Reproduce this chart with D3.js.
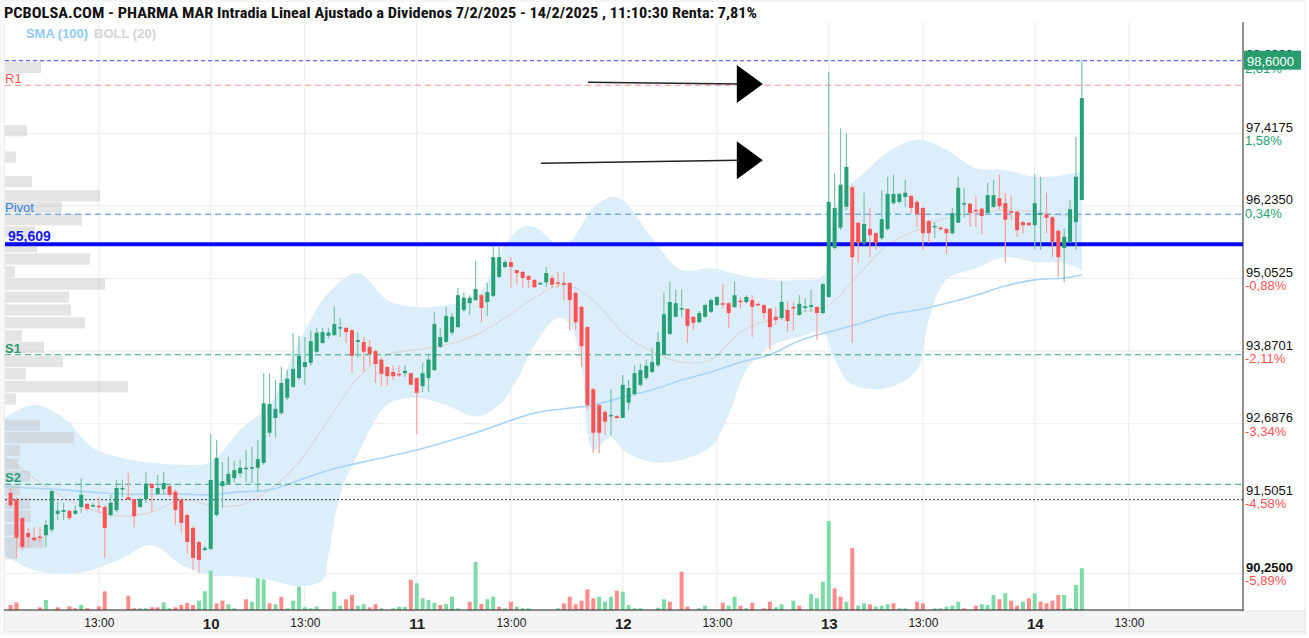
<!DOCTYPE html>
<html>
<head>
<meta charset="utf-8">
<script src="https://cdn.jsdelivr.net/npm/d3@7"></script>
<style>
  body { margin: 0; background: #fff; }
  svg { display: block; font-family: Arial, "Liberation Sans", sans-serif; }
</style>
</head>
<body>
<svg id="chart" width="1309" height="638"></svg>
<script>
// 15 minute bars, [open, high, low, close]; day 7 starts at 9:15
var day07 = [
  [91.56,91.64,91.32,91.36],[91.45,91.49,90.50,90.83],[91.15,91.17,90.63,90.68],[90.91,90.99,90.68,90.84],
  [90.83,91.00,90.76,90.79],[90.85,91.00,90.74,90.83],[90.87,91.12,90.68,91.04],[90.96,91.61,90.92,91.59],
  [91.22,91.41,91.12,91.27],[91.25,91.40,91.12,91.28],[91.27,91.28,91.12,91.15],[91.22,91.36,91.20,91.27],
  [91.33,91.80,91.23,91.53],[91.38,91.40,91.27,91.30],[91.35,91.40,91.33,91.36],[91.35,91.49,91.23,91.33],
  [91.33,91.36,90.50,90.99],[91.20,91.53,91.17,91.40],[91.28,91.77,91.25,91.64],[91.62,91.77,91.49,91.64],
  [91.49,91.89,91.45,91.45],[91.46,91.46,91.00,91.18],[91.33,91.49,91.32,91.46],[91.46,91.90,91.40,91.71],
  [91.71,91.71,91.25,91.64],[91.54,91.85,91.53,91.64],[91.62,91.90,91.53,91.72],[91.67,91.69,91.49,91.53],
  [91.58,91.61,91.04,91.28],[91.45,91.48,90.91,91.07],[91.20,91.23,90.58,90.76],[90.99,91.02,90.31,90.50],
  [90.76,90.78,90.26,90.47],[90.63,90.70,90.61,90.66]
];
var day10 = [
  [90.65,92.52,90.63,91.77],[91.20,92.42,91.17,92.13],[91.67,92.06,91.32,91.75],[91.71,92.15,91.69,91.87],
  [91.80,92.08,91.72,91.93],[91.88,92.10,91.82,91.97],[91.95,92.26,91.74,91.97],[91.97,92.31,91.72,91.98],
  [91.97,92.42,91.58,92.11],[92.05,93.51,92.02,93.02],[92.54,93.51,92.47,93.01],[92.78,93.40,92.46,92.93],
  [92.86,93.61,92.83,93.35],[93.11,93.56,93.07,93.42],[93.29,94.17,93.27,93.58],[93.43,94.12,93.40,93.79],
  [93.61,94.10,93.32,93.69],[93.68,94.21,93.64,94.03],[93.86,94.25,93.84,94.17],[94.00,94.25,94.00,94.18],
  [94.12,94.25,94.07,94.17],[94.13,94.60,94.12,94.31],[94.25,94.41,94.10,94.26],[94.25,94.26,94.00,94.18],
  [94.21,94.23,93.51,93.79],[94.02,94.18,93.76,94.05],[94.02,94.10,93.53,93.86],[93.94,94.05,93.64,93.82],
  [93.87,93.90,93.35,93.66],[93.73,93.76,93.30,93.50],[93.61,93.63,93.30,93.46],[93.53,93.64,93.40,93.46],
  [93.50,93.64,93.45,93.48],[93.51,93.64,93.45,93.55],[93.51,93.53,93.32,93.32]
];
var day11 = [
  [93.43,93.45,92.52,93.19],[93.30,93.68,93.20,93.51],[93.43,93.79,93.20,93.73],[93.56,94.51,93.55,94.31],
  [93.94,94.25,93.92,94.10],[94.02,94.59,94.00,94.44],[94.17,94.49,94.13,94.43],[94.26,94.90,94.25,94.78],
  [94.54,94.83,94.51,94.74],[94.65,94.78,94.46,94.74],[94.70,95.34,94.69,94.88],[94.78,94.80,94.34,94.57],
  [94.67,94.98,94.44,94.83],[94.77,95.58,94.75,95.40],[95.08,95.58,95.06,95.40],[95.24,95.35,95.22,95.32],
  [95.32,95.40,94.90,95.24],[95.19,95.19,94.95,95.14],[95.16,95.18,94.90,95.06],[95.09,95.11,94.90,95.03],
  [95.03,95.04,94.90,94.91],[94.96,94.99,94.95,94.98],[94.99,95.24,94.91,95.14],[95.06,95.11,94.90,94.95],
  [94.99,95.16,94.90,94.97],[94.98,95.16,94.70,94.95],[94.98,94.99,94.21,94.70],[94.82,94.83,94.21,94.34],
  [94.59,94.62,93.61,93.95],[94.26,94.28,92.91,92.99],[93.25,93.27,92.21,92.54],[92.99,93.01,92.21,92.54],
  [92.88,92.91,92.50,92.72],[92.81,93.25,92.50,92.83],[92.81,92.83,92.76,92.78]
];
var day12 = [
  [92.78,93.48,92.78,93.32],[93.03,93.40,92.91,93.27],[93.17,93.64,93.14,93.51],[93.32,93.66,93.29,93.56],
  [93.43,93.73,93.40,93.63],[93.53,93.92,93.51,93.69],[93.64,94.18,93.61,94.02],[93.81,94.82,93.79,94.47],
  [94.15,95.00,94.13,94.67],[94.43,94.87,94.41,94.65],[94.56,94.87,94.43,94.57],[94.56,94.56,94.00,94.28],
  [94.43,94.44,94.21,94.33],[94.34,94.52,94.33,94.49],[94.43,94.64,94.41,94.62],[94.51,94.73,94.49,94.70],
  [94.62,94.77,94.60,94.75],[94.65,94.96,94.57,94.64],[94.65,94.67,94.25,94.49],[94.59,95.00,94.57,94.78],
  [94.69,94.75,94.57,94.67],[94.67,94.78,94.65,94.75],[94.70,94.78,94.10,94.59],[94.64,94.67,94.60,94.62],
  [94.62,94.64,94.39,94.49],[94.56,94.57,93.89,94.26],[94.43,94.59,94.30,94.38],[94.41,95.00,94.38,94.67],
  [94.54,94.69,94.18,94.36],[94.59,94.67,94.21,94.57],[94.46,94.78,94.44,94.64],[94.57,94.73,94.51,94.60],
  [94.59,94.87,94.51,94.62],[94.59,94.60,94.05,94.49],[94.49,94.98,94.47,94.96]
];
var day13 = [
  [94.75,98.42,94.74,96.30],[95.55,96.77,95.52,96.20],[95.88,97.50,95.84,96.58],[96.22,97.42,96.17,96.87],
  [96.54,96.58,94.00,95.40],[95.96,95.97,95.31,95.63],[95.63,96.45,95.60,95.94],[95.86,96.20,95.40,95.76],
  [95.79,95.81,95.52,95.63],[95.71,96.49,95.68,96.02],[95.86,96.71,95.83,96.43],[96.28,96.75,96.25,96.43],
  [96.30,96.45,96.27,96.43],[96.38,96.66,96.22,96.45],[96.40,96.41,96.12,96.20],[96.30,96.33,95.89,96.10],
  [96.20,96.22,95.52,95.79],[95.99,96.01,95.63,95.79],[95.89,95.97,95.71,95.91],[95.88,95.91,95.83,95.86],
  [95.86,95.88,95.45,95.79],[95.79,96.20,95.76,96.12],[95.96,96.71,95.96,96.53],[96.27,96.53,96.04,96.28],
  [96.27,96.28,95.89,96.12],[96.17,96.40,95.89,96.15],[96.19,96.20,95.76,96.07],[96.12,96.61,96.12,96.41],
  [96.22,96.66,96.20,96.41],[96.36,96.75,96.17,96.23],[96.28,96.45,95.31,96.01],[96.15,96.41,96.01,96.14],
  [96.14,96.15,95.73,95.84],[95.97,95.99,95.79,95.92],[95.96,95.97,95.91,95.92]
];
var day14 = [
  [95.92,96.75,95.52,96.28],[96.09,96.71,95.52,96.12],[96.10,96.45,95.79,96.04],[96.05,96.07,95.40,95.65],
  [95.83,95.84,95.08,95.40],[95.55,95.87,95.00,95.73],[95.65,96.33,95.63,96.18],[95.97,97.36,95.52,96.71],
  [96.33,98.61,96.33,97.99]
];

// volume per bar (thousands), negative = selling bar (red)
var vol07 = [-5,-7.7,0,0,0,-2.7,10,0,-2.7,0,-3.7,-1.7,5,-1.7,0,-3.7,-18.7,0,0,0,-14.3,-1.7,1.7,1.7,-2.7,-2.7,7.7,1.7,-2.7,-5,-7,-5,9.3,18.7];
var vol10 = [39.3,-6.7,-9.3,5.7,1.7,0,-10.7,8.3,31.7,30.7,-6.7,5.7,-13.3,1.7,9.3,23.3,2.7,1.7,3.3,0,0,18.3,4.3,-10.7,-15,4.3,5.7,-2.7,-5.7,1.7,0,1.7,3.3,3.3,-30];
var vol11 = [26.7,11.7,10,7.3,-5,6,13.3,1.7,0,-8.3,48,-6,10.7,13.3,-3.3,1.7,-8.3,3.3,1.7,1.7,0,0,0,0,1.7,-6.7,-13.3,-5.7,-9.3,-20.7,-11.7,13.3,8.3,13.3,-19.3];
var vol12 = [18.3,5,1.7,1.7,0,0,2.3,10.7,-8.3,0,-38.3,-3.3,0,1.7,4.3,0,0,-7.3,4.3,13.3,-4.3,1.7,-7.3,0,-1.7,-8.3,2.7,5.7,0,9.3,-4.3,0,16,11.7,28.3];
var vol13 = [89,-21.7,-13.3,8.3,-62,4.3,6.7,-5.7,3.3,4.3,5.7,-6.7,1.7,1.7,0,-8.3,-6.7,0,1.7,1.7,3.3,4.3,8.3,-1.7,0,-4.3,5.7,5,15,-10.7,16.7,-9.3,-4.3,8.3,-11.7];
var vol14 = [16.7,-8.3,-6.7,-9.3,-15,15,1.7,25,41.7];

// Bollinger (20) bands and SMA (100), read at bar indices
var upIdx = [0,5,10,15,20,25,30,35,40,45,50,55,60,65,70,75,80,85,88,90,95,100,103,105,110,115,120,125,130,135,139,140,141,143,145,150,155,160,165,170,175,180,183];
var upVal = [92.78,92.99,92.78,92.29,92.13,92.05,92.02,92.06,92.59,92.99,94.02,94.82,95.14,94.70,94.59,94.62,94.75,95.60,95.89,95.89,95.58,96.20,96.38,96.33,95.71,95.19,95.22,95.11,95.03,95.03,95.09,95.52,96.17,96.54,96.69,97.11,97.31,97.15,96.85,96.82,96.71,96.74,96.79];
var loIdx = [0,5,10,15,20,25,30,35,40,45,50,54,55,57,60,65,70,75,80,84,87,90,94,96,98,100,103,105,110,115,120,123,126,130,135,139,141,144,150,155,157,160,165,170,175,180,183];
var loVal = [90.55,90.30,90.24,90.31,90.50,90.71,90.39,90.22,90.20,90.14,90.04,90.14,90.55,91.53,92.18,92.99,93.11,92.99,92.80,92.99,93.40,93.97,94.41,94.30,93.64,92.26,92.47,92.26,92.06,92.10,92.31,92.83,93.56,93.94,94.10,94.17,93.73,93.32,93.27,93.56,94.38,95.03,95.22,95.40,95.32,95.31,95.19];
var midIdx = [0,5,10,15,20,25,30,35,40,45,50,55,60,65,70,75,80,85,90,95,100,105,110,115,120,125,130,135,140,145,150,155,160,165,170,175,180,183];
var midVal = [92.15,91.80,91.49,91.28,91.18,91.25,91.45,91.36,91.36,91.61,92.06,92.75,93.43,93.81,93.89,93.97,94.13,94.41,94.74,94.95,94.70,94.17,93.86,93.69,93.73,94.18,94.38,94.49,94.62,95.11,95.60,95.84,96.04,96.12,96.17,96.14,96.07,96.05];
var smaIdx = [0,10,20,30,35,40,45,55,65,70,80,90,100,105,110,115,120,125,130,135,140,145,150,155,160,165,170,175,180,183];
var smaVal = [91.66,91.61,91.54,91.54,91.53,91.58,91.61,91.93,92.15,92.26,92.54,92.86,92.99,93.12,93.24,93.40,93.53,93.69,93.81,94.04,94.18,94.31,94.46,94.54,94.65,94.78,94.93,95.03,95.06,95.11];

// volume by price (left side)
var profPrice = [98.49,97.46,97.03,96.63,96.40,96.21,96.01,95.81,95.57,95.37,95.16,94.96,94.75,94.54,94.33,94.12,93.93,93.70,93.50,93.29,93.09,92.66,92.46,92.25,92.03,91.83,91.61,91.39,91.18,90.96,90.75,90.57];
var profVol = [36,22,11,27,95,57,77,30,32,85,10,100,64,66,80,17,39,58,21,123,11,35,69,15,14,25,15,25,26,18,39,12];

var levelNames = ["R1", "Pivot", "S1", "S2"];
var levelVals = [98.20, 96.10, 93.81, 91.70];
var lastPrice = 98.60, keyLevel = 95.609, prevClose = 91.45;

var priceTicks = [90.25, 91.5051, 92.6876, 93.8701, 95.0525, 96.235, 97.4175, 98.6];
var pctLabels = ["-5,89%", "-4,58%", "-3,34%", "-2,11%", "-0,88%", "0,34%", "1,58%", "2,81%"];
var timeIdx = [16, 35, 51, 70, 86, 105, 121, 140, 156, 175, 191];
var timeLabels = ["13:00", "10", "13:00", "11", "13:00", "12", "13:00", "13", "13:00", "14", "13:00"];

// arrows drawn on the chart: [bar index, price]
var arrowFrom = [[99.1, 98.25], [91.1, 96.93]];
var arrowTo = [[128.8, 98.22], [128.8, 96.98]];

var titleText = "PCBOLSA.COM - PHARMA MAR Intradia Lineal Ajustado a Dividenos 7/2/2025 - 14/2/2025 , 11:10:30 Renta: 7,81%";

var GREEN = "#26a074", GREEN_WICK = "#79c2a3", RED = "#ff5252", RED_WICK = "#ff9d9d";

var plotL = 5, plotR = 1243, plotT = 22, plotB = 610;

var candles = [].concat(day07, day10, day11, day12, day13, day14);
var volumes = [].concat(vol07, vol10, vol11, vol12, vol13, vol14);

var svg = d3.select("#chart");

var x = d3.scaleLinear().domain([0, 210.5]).range([4.7, 1243.7]);
var y = d3.scaleLinear().domain([89.653, 99.23]).range([plotB, plotT]);
var yVol = d3.scaleLinear().domain([0, 110]).range([plotB, plotB - 110]);
var xProf = d3.scaleLinear().domain([0, 130]).range([plotL, plotL + 130]);

// frame and x axis band
svg.append("rect").attr("x", 1).attr("y", 1).attr("width", 1304).attr("height", 633)
  .attr("fill", "none").attr("stroke", "#eeeeee");
svg.append("rect").attr("x", plotL - 1).attr("y", plotB + 1).attr("width", 1301).attr("height", 21)
  .attr("fill", "#f4f4f4").attr("stroke", "#e6e0e0");

// grid
svg.append("g").selectAll("line").data(priceTicks).enter().append("line")
  .attr("x1", plotL).attr("x2", plotR)
  .attr("y1", function (d) { return y(d); }).attr("y2", function (d) { return y(d); })
  .attr("stroke", "#ebebeb");
svg.append("g").selectAll("line").data(timeIdx.filter(function (d) { return x(d) < plotR; })).enter().append("line")
  .attr("x1", function (d) { return x(d); }).attr("x2", function (d) { return x(d); })
  .attr("y1", plotT).attr("y2", plotB)
  .attr("stroke", "#ebebeb");
svg.append("line").attr("x1", plotL - 1).attr("x2", plotL - 1).attr("y1", plotT).attr("y2", plotB).attr("stroke", "#e2e2e2");

// bollinger band: upper edge then lower edge back
var bandLine = d3.line().curve(d3.curveCatmullRom)
  .x(function (d) { return x(d[0]); }).y(function (d) { return y(d[1]); });
var upPts = upIdx.map(function (d, i) { return [d, upVal[i]]; });
var loPts = loIdx.map(function (d, i) { return [d, loVal[i]]; }).reverse();
svg.append("path")
  .attr("d", bandLine(upPts) + "L" + bandLine(loPts).slice(1) + "Z")
  .attr("fill", "#ddeefb");

svg.append("path")
  .attr("d", bandLine(midIdx.map(function (d, i) { return [d, midVal[i]]; })))
  .attr("fill", "none").attr("stroke", "#d8d8d8").attr("stroke-width", 1.2);
svg.append("path")
  .attr("d", bandLine(smaIdx.map(function (d, i) { return [d, smaVal[i]]; })))
  .attr("fill", "none").attr("stroke", "#a9d5f7").attr("stroke-width", 1.6);

// volume by price
var bucket = 0.2;
svg.append("g").selectAll("rect").data(profPrice).enter().append("rect")
  .attr("x", plotL)
  .attr("y", function (d) { return y(d + bucket / 2) + 0.5; })
  .attr("width", function (d, i) { return xProf(profVol[i]) - plotL; })
  .attr("height", function (d) { return y(d - bucket / 2) - y(d + bucket / 2) - 1; })
  .attr("fill", "rgba(190,190,190,0.42)");

// level lines
var levelColors = ["#ff8a8a", "#3b8fe0", "#2fa37a", "#2fa37a"];
var levelText = ["#ff5252", "#2f86da", "#2a9d6f", "#2a9d6f"];
svg.append("line").attr("x1", plotL).attr("x2", plotR).attr("y1", y(lastPrice)).attr("y2", y(lastPrice))
  .attr("stroke", "#4650f5").attr("stroke-dasharray", "4,3");
levelVals.forEach(function (v, i) {
  svg.append("line").attr("x1", plotL).attr("x2", plotR).attr("y1", y(v)).attr("y2", y(v))
    .attr("stroke", levelColors[i]).attr("stroke-dasharray", "6,4");
  svg.append("text").attr("x", plotL).attr("y", y(v) - 2)
    .attr("font-size", 13).attr("font-weight", i >= 2 ? "bold" : "normal")
    .attr("fill", levelText[i]).text(levelNames[i]);
});
svg.append("line").attr("x1", plotL).attr("x2", plotR).attr("y1", y(prevClose)).attr("y2", y(prevClose))
  .attr("stroke", "#333").attr("stroke-dasharray", "2,2");
svg.append("line").attr("x1", plotL).attr("x2", plotR).attr("y1", y(keyLevel)).attr("y2", y(keyLevel))
  .attr("stroke", "#0a0af0").attr("stroke-width", 4);
svg.append("text").attr("x", 8).attr("y", y(keyLevel) - 3)
  .attr("font-size", 14).attr("font-weight", "bold").attr("fill", "#1717f0")
  .text(d3.format(".3f")(keyLevel).replace(".", ","));

// volume bars
svg.append("g").selectAll("rect").data(volumes).enter().append("rect")
  .attr("x", function (d, i) { return x(i + 1) - 2; })
  .attr("y", function (d) { return yVol(Math.abs(d)); })
  .attr("width", 4)
  .attr("height", function (d) { return plotB - yVol(Math.abs(d)); })
  .attr("fill", function (d) { return d < 0 ? "#ff8c8c" : "#7edba7"; });

// candles
var cg = svg.append("g").selectAll("g").data(candles).enter().append("g");
cg.append("line")
  .attr("x1", function (d, i) { return x(i + 1); }).attr("x2", function (d, i) { return x(i + 1); })
  .attr("y1", function (d) { return y(d[1]); }).attr("y2", function (d) { return y(d[2]); })
  .attr("stroke", function (d) { return d[3] >= d[0] ? GREEN_WICK : RED_WICK; })
  .attr("stroke-width", 1.2);
cg.append("rect")
  .attr("x", function (d, i) { return x(i + 1) - 2; })
  .attr("y", function (d) { return y(Math.max(d[0], d[3])); })
  .attr("width", 4)
  .attr("height", function (d) { return Math.max(1.5, Math.abs(y(d[0]) - y(d[3]))); })
  .attr("fill", function (d) { return d[3] >= d[0] ? GREEN : RED; });

// arrows
arrowFrom.forEach(function (a, i) {
  var b = arrowTo[i];
  var x0 = x(a[0]), y0 = y(a[1]), x1 = x(b[0]), y1 = y(b[1]);
  svg.append("line").attr("x1", x0).attr("y1", y0).attr("x2", x1 - 24).attr("y2", y1)
    .attr("stroke", "#222").attr("stroke-width", 1.5);
  svg.append("path")
    .attr("d", "M" + (x1 - 26) + "," + (y1 - 19) + "L" + x1 + "," + y1 + "L" + (x1 - 26) + "," + (y1 + 19) + "Z")
    .attr("fill", "#000");
});

// axes
var yAxis = d3.axisRight(y).tickValues(priceTicks).tickSize(0).tickPadding(3)
  .tickFormat(function (d) { return d3.format(".4f")(d).replace(".", ","); });
var gy = svg.append("g").attr("transform", "translate(" + plotR + ",0)")
  .attr("font-family", "Arial, 'Liberation Sans', sans-serif").attr("color", "#111")
  .call(yAxis);
gy.select(".domain").remove();
gy.selectAll(".tick text").attr("font-size", 13).attr("dy", "-0.15em")
  .attr("font-weight", function (d) { return d === priceTicks[0] ? "bold" : "normal"; });
gy.selectAll(".tick").append("text")
  .attr("x", 2).attr("dy", "0.88em").attr("font-size", 13)
  .attr("fill", function (d, i) { return pctLabels[i].charAt(0) === "-" ? "#ff5252" : GREEN; })
  .text(function (d, i) { return pctLabels[i]; });

var xAxis = d3.axisBottom(x).tickValues(timeIdx).tickSize(0).tickPadding(8)
  .tickFormat(function (d, i) { return timeLabels[i]; });
var gx = svg.append("g").attr("transform", "translate(0," + plotB + ")")
  .attr("font-family", "Arial, 'Liberation Sans', sans-serif").attr("color", "#222")
  .call(xAxis);
gx.select(".domain").remove();
gx.selectAll(".tick text")
  .attr("font-size", function (d, i) { return timeLabels[i].length <= 2 ? 15 : 12; })
  .attr("font-weight", function (d, i) { return timeLabels[i].length <= 2 ? "bold" : "normal"; });

svg.append("line").attr("x1", plotL - 1).attr("x2", plotR).attr("y1", plotB).attr("y2", plotB).attr("stroke", "#222");
svg.append("line").attr("x1", plotR).attr("x2", plotR).attr("y1", plotT).attr("y2", plotB + 1).attr("stroke", "#222");

// last price badge, drawn over the top tick label
var badge = svg.append("g").attr("transform", "translate(" + (plotR + 1) + "," + y(lastPrice) + ")");
badge.append("rect").attr("x", 0).attr("y", -10).attr("width", 57).attr("height", 19)
  .style("fill", "#2a9d6f");
badge.append("text").attr("x", 3).attr("y", 5).attr("font-size", 13).style("fill", "#ffffff")
  .text(d3.format(".4f")(lastPrice).replace(".", ","));

// title and legend
svg.append("text").attr("x", 4).attr("y", 18)
  .attr("font-family", "'Liberation Sans Narrow', 'Roboto Condensed', Arial, sans-serif")
  .attr("font-size", 14).attr("font-weight", "bold").attr("fill", "#111")
  .attr("textLength", 753).attr("lengthAdjust", "spacingAndGlyphs")
  .text(titleText);
svg.append("text").attr("x", 26).attr("y", 38)
  .attr("font-family", "'Liberation Sans Narrow', Arial, sans-serif")
  .attr("font-size", 13).attr("font-weight", "bold").attr("fill", "#8fcbf3")
  .attr("textLength", 62).attr("lengthAdjust", "spacingAndGlyphs").text("SMA (100)");
svg.append("text").attr("x", 94).attr("y", 38)
  .attr("font-family", "'Liberation Sans Narrow', Arial, sans-serif")
  .attr("font-size", 13).attr("font-weight", "bold").attr("fill", "#d4d4d4")
  .attr("textLength", 62).attr("lengthAdjust", "spacingAndGlyphs").text("BOLL (20)");
</script>
</body>
</html>
